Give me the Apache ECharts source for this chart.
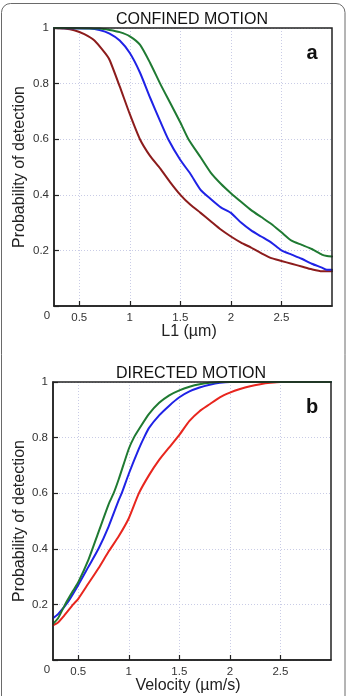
<!DOCTYPE html>
<html><head><meta charset="utf-8">
<script src="https://cdn.jsdelivr.net/npm/echarts@6/dist/echarts.min.js"></script>
<style>html,body{margin:0;padding:0;background:#fff}#c{width:349px;height:696px}</style>
</head><body><div id="c"></div>
<script>
// Panel a: CONFINED MOTION, x = L1 (µm)
const confinedRed = [[0.25,1.0],[0.35,0.998],[0.45,0.992],[0.55,0.978],[0.65,0.955],[0.75,0.912],[0.8,0.885],[0.9,0.79],[1.0,0.69],[1.1,0.6],[1.2,0.54],[1.3,0.495],[1.4,0.445],[1.5,0.40],[1.6,0.364],[1.7,0.335],[1.8,0.305],[1.9,0.275],[2.0,0.25],[2.1,0.228],[2.2,0.21],[2.3,0.19],[2.4,0.172],[2.5,0.162],[2.6,0.152],[2.7,0.142],[2.8,0.132],[2.9,0.125],[3.0,0.125]];
const confinedBlue = [[0.25,1.0],[0.6,0.998],[0.7,0.993],[0.8,0.98],[0.9,0.955],[1.0,0.91],[1.1,0.84],[1.2,0.75],[1.3,0.665],[1.38,0.6],[1.5,0.525],[1.6,0.475],[1.7,0.418],[1.8,0.385],[1.9,0.355],[2.0,0.335],[2.1,0.3],[2.2,0.272],[2.3,0.25],[2.4,0.228],[2.5,0.2],[2.6,0.185],[2.7,0.17],[2.8,0.152],[2.9,0.138],[2.95,0.13],[3.0,0.13]];
const confinedGreen = [[0.25,1.0],[0.7,0.998],[0.8,0.993],[0.9,0.985],[1.0,0.97],[1.1,0.94],[1.2,0.875],[1.3,0.8],[1.4,0.73],[1.5,0.66],[1.58,0.6],[1.7,0.535],[1.8,0.48],[1.9,0.44],[2.0,0.406],[2.1,0.375],[2.2,0.345],[2.3,0.32],[2.4,0.295],[2.5,0.265],[2.6,0.235],[2.7,0.22],[2.8,0.205],[2.9,0.185],[2.95,0.18],[3.0,0.178]];
// Panel b: DIRECTED MOTION, x = Velocity (µm/s)
const directedGreen = [[0.25,0.13],[0.3,0.15],[0.37,0.2],[0.45,0.25],[0.5,0.28],[0.6,0.36],[0.7,0.46],[0.8,0.56],[0.85,0.6],[0.9,0.65],[1.0,0.76],[1.05,0.8],[1.1,0.83],[1.2,0.885],[1.3,0.925],[1.4,0.952],[1.5,0.97],[1.6,0.983],[1.7,0.992],[1.8,0.997],[1.9,1.0],[3.0,1.0]];
const directedBlue = [[0.25,0.15],[0.3,0.165],[0.4,0.21],[0.5,0.27],[0.6,0.335],[0.7,0.4],[0.8,0.48],[0.9,0.575],[0.93,0.6],[1.0,0.67],[1.1,0.76],[1.15,0.8],[1.2,0.835],[1.3,0.88],[1.4,0.915],[1.5,0.945],[1.6,0.966],[1.7,0.98],[1.8,0.99],[1.9,0.997],[2.0,1.0],[3.0,1.0]];
const directedRed = [[0.25,0.125],[0.3,0.135],[0.35,0.155],[0.45,0.2],[0.5,0.22],[0.6,0.275],[0.7,0.33],[0.8,0.39],[0.9,0.445],[1.0,0.51],[1.1,0.6],[1.2,0.665],[1.3,0.72],[1.4,0.765],[1.5,0.81],[1.6,0.86],[1.7,0.895],[1.8,0.92],[1.9,0.945],[2.0,0.962],[2.1,0.975],[2.2,0.985],[2.3,0.992],[2.4,0.997],[2.5,1.0],[3.0,1.0]];
const xTicks = [0.5, 1, 1.5, 2, 2.5];
const yTicks = [0.2, 0.4, 0.6, 0.8, 1];
const titles = ['CONFINED MOTION', 'DIRECTED MOTION'];
const xNames = ['L1 (µm)', 'Velocity (µm/s)'];
const yName = 'Probability of detection';
const panelLetters = ['a', 'b'];

const FONT = 'Liberation Sans, Arial, sans-serif';
const chart = echarts.init(document.getElementById('c'), null, {renderer: 'canvas'});
const grids = [
  {left: 54, top: 28, width: 278, height: 278},
  {left: 53, top: 382, width: 278, height: 278}
];
function xAxis(i) {
  return {
    type: 'value', gridIndex: i, min: 0.25, max: 3,
    axisLine: {show: true, onZero: false, lineStyle: {color: '#222', width: 1.5}},
    axisTick: {show: true, inside: true, length: 5, customValues: xTicks, lineStyle: {color: '#222', width: 1.2}},
    axisLabel: {show: true, customValues: xTicks, margin: 6, color: '#333', fontSize: 11.5, fontFamily: FONT, formatter: v => String(v)},
    splitLine: {show: true, lineStyle: {color: '#c9cce6', type: [1, 2], width: 1}}
  };
}
function yAxis(i) {
  return {
    type: 'value', gridIndex: i, min: 0, max: 1, interval: 0.2,
    axisLine: {show: true, lineStyle: {color: '#222', width: 1.5}},
    axisTick: {show: true, inside: true, length: 5, lineStyle: {color: '#222', width: 1.2}},
    axisLabel: {show: true, margin: 5, color: '#333', fontSize: 11.5, fontFamily: FONT,
      formatter: v => (yTicks.some(t => Math.abs(t - v) < 1e-6) ? String(+v.toFixed(1)) : '')},
    splitLine: {show: true, lineStyle: {color: '#c9cce6', type: [1, 2], width: 1}}
  };
}
function line(data, color, gi) {
  return {type: 'line', xAxisIndex: gi, yAxisIndex: gi, data: data, showSymbol: false,
    smooth: 0.2, lineStyle: {color: color, width: 2, join: 'round', cap: 'round'}, silent: true, animation: false};
}
const graphics = [
  {type: 'rect', shape: {x: 1.5, y: 3.5, width: 343.5, height: 760, r: 9}, style: {fill: 'none', stroke: '#6a6a6a', lineWidth: 1}},
];
[0, 1].forEach(i => {
  const g = grids[i];
  const cx = g.left + g.width / 2;
  graphics.push({type: 'rect', shape: {x: g.left, y: g.top, width: g.width, height: g.height}, style: {fill: 'none', stroke: '#222', lineWidth: 1.5}, z: 10});
  graphics.push({type: 'text', x: cx - 1, y: g.top - 8, style: {text: titles[i], font: '16px ' + FONT, fill: '#111', align: 'center', verticalAlign: 'middle'}});
  graphics.push({type: 'text', x: 312, y: g.top + 25, style: {text: panelLetters[i], font: 'bold 20px ' + FONT, fill: '#111', align: 'center', verticalAlign: 'middle'}, z: 20});
  graphics.push({type: 'text', x: 47, y: g.top + g.height + 10, style: {text: '0', font: '11.5px ' + FONT, fill: '#333', align: 'center', verticalAlign: 'middle'}});
  graphics.push({type: 'text', x: cx - 4, y: g.top + g.height + 26, style: {text: xNames[i], font: '16px ' + FONT, fill: '#222', align: 'center', verticalAlign: 'middle'}});
  graphics.push({type: 'text', x: 20, y: g.top + g.height / 2, rotation: Math.PI / 2, style: {text: yName, font: '16px ' + FONT, fill: '#222', align: 'center', verticalAlign: 'middle'}});
});
chart.setOption({
  animation: false,
  grid: grids,
  xAxis: [xAxis(0), xAxis(1)],
  yAxis: [yAxis(0), yAxis(1)],
  series: [
    line(confinedRed, '#8c1c1c', 0),
    line(confinedBlue, '#1f22e6', 0),
    line(confinedGreen, '#1f7a32', 0),
    line(directedRed, '#e8261e', 1),
    line(directedBlue, '#1f22e6', 1),
    line(directedGreen, '#1f7a32', 1)
  ],
  graphic: graphics
});
</script></body></html>
